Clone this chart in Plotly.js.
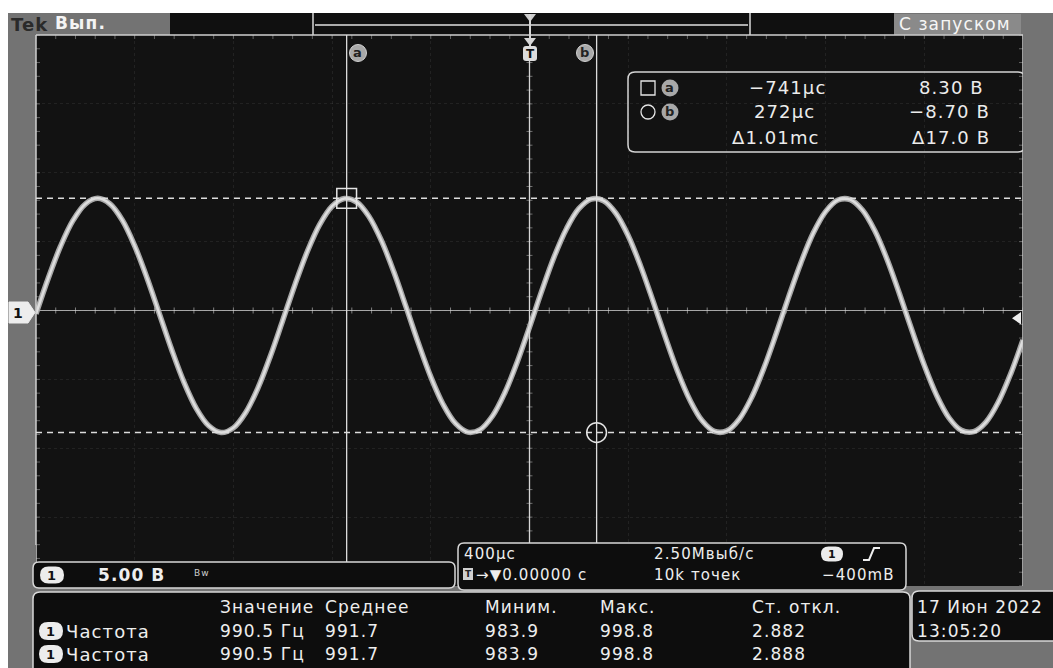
<!DOCTYPE html>
<html><head><meta charset="utf-8">
<script src="https://cdn.plot.ly/plotly-3.0.1.min.js"></script>
<style>html,body{margin:0;padding:0;background:#fff;overflow:hidden}#plot{width:1053px;height:668px}
.annotation-text{letter-spacing:1.1px}</style>
</head><body><div id="plot"></div>
<script>
// ---- data ----
const timeUs = [-2000,-1950,-1900,-1850,-1800,-1750,-1700,-1650,-1600,-1550,-1500,-1450,-1400,-1350,-1300,-1250,-1200,-1150,-1100,-1050,-1000,-950,-900,-850,-800,-750,-700,-650,-600,-550,-500,-450,-400,-350,-300,-250,-200,-150,-100,-50,0,50,100,150,200,250,300,350,400,450,500,550,600,650,700,750,800,850,900,950,1000,1050,1100,1150,1200,1250,1300,1350,1400,1450,1500,1550,1600,1650,1700,1750,1800,1850,1900,1950,2000];
const voltV = [-0.08,2.52,4.85,6.70,7.89,8.30,7.89,6.71,4.85,2.52,-0.08,-2.69,-5.06,-6.96,-8.21,-8.70,-8.36,-7.24,-5.44,-3.14,-0.56,2.06,4.46,6.41,7.73,8.29,8.03,6.97,5.23,2.97,0.40,-2.23,-4.66,-6.66,-8.04,-8.67,-8.48,-7.50,-5.81,-3.59,-1.04,1.60,4.06,6.10,7.55,8.25,8.13,7.22,5.59,3.40,0.87,-1.76,-4.25,-6.34,-7.85,-8.62,-8.58,-7.73,-6.16,-4.02,-1.51,1.13,3.63,5.78,7.34,8.18,8.21,7.44,5.93,3.83,1.34,-1.29,-3.82,-6.00,-7.63,-8.54,-8.64,-7.94,-6.49,-4.44,-1.98];
const cursorT = [-741, 272];          // µs
const cursorV = [8.30, -8.70];        // V
const triggerLevelV = -0.4;
const timePerDivUs = 400;
const voltPerDiv = 5;
const readoutRows = [['−741µс','8.30 В'],['272µс','−8.70 В'],['Δ1.01mс','Δ17.0 В']];
const measHeaders = ['Значение','Среднее','Миним.','Макс.','Ст. откл.'];
const measName = 'Частота';
const measRow1 = ['990.5 Гц','991.7','983.9','998.8','2.882'];
const measRow2 = ['990.5 Гц','991.7','983.9','998.8','2.888'];
const chanScale = '5.00 В';
const tbTexts = ['400µс','2.50Мвыб/с','→▼0.00000 с','10k точек','−400mВ'];
const dateTexts = ['17 Июн 2022','13:05:20'];

// ---- layout helpers (pixel -> paper) ----
const L=36,R=1023,T=35,B=586,W=R-L,H=B-T;
const px=x=>(x-L)/W, py=y=>(B-y)/H;
const FONT='DejaVu Sans';
const shapes=[], ann=[];
function rect(x0,y0,x1,y1,fill,lc,lw){shapes.push({type:'rect',xref:'paper',yref:'paper',x0:px(x0),x1:px(x1),y0:py(y1),y1:py(y0),fillcolor:fill,line:{color:lc||'rgba(0,0,0,0)',width:lw||0},layer:'above'});}
function rrect(x0,y0,x1,y1,r,fill,lc,lw){
  const X=px,Y=py;
  const p=`M${X(x0+r)},${Y(y0)} L${X(x1-r)},${Y(y0)} Q${X(x1)},${Y(y0)} ${X(x1)},${Y(y0+r)} L${X(x1)},${Y(y1-r)} Q${X(x1)},${Y(y1)} ${X(x1-r)},${Y(y1)} L${X(x0+r)},${Y(y1)} Q${X(x0)},${Y(y1)} ${X(x0)},${Y(y1-r)} L${X(x0)},${Y(y0+r)} Q${X(x0)},${Y(y0)} ${X(x0+r)},${Y(y0)} Z`;
  shapes.push({type:'path',xref:'paper',yref:'paper',path:p,fillcolor:fill,line:{color:lc||'rgba(0,0,0,0)',width:lw||0},layer:'above'});
}
function pathP(pts,fill,lc,lw,close){
  let p=pts.map((q,i)=>(i?'L':'M')+px(q[0])+','+py(q[1])).join(' ')+(close?' Z':'');
  shapes.push({type:'path',xref:'paper',yref:'paper',path:p,fillcolor:fill||'rgba(0,0,0,0)',line:{color:lc||'rgba(0,0,0,0)',width:lw||0},layer:'above'});
}
function lineP(x0,y0,x1,y1,c,w,dash){shapes.push({type:'line',xref:'paper',yref:'paper',x0:px(x0),x1:px(x1),y0:py(y0),y1:py(y1),line:{color:c,width:w,dash:dash||'solid'},layer:'above'});}
function circ(cx,cy,r,fill,lc,lw){shapes.push({type:'circle',xref:'paper',yref:'paper',x0:px(cx-r),x1:px(cx+r),y0:py(cy+r),y1:py(cy-r),fillcolor:fill,line:{color:lc||'rgba(0,0,0,0)',width:lw||0},layer:'above'});}
function txt(x,y,t,size,color,xa,bold){ann.push({xref:'paper',yref:'paper',x:px(x),y:py(y),text:bold?'<b>'+t+'</b>':t,showarrow:false,xanchor:xa||'left',yanchor:'middle',font:{family:FONT,size:size,color:color||'#ececec'}});}
function badge(cx,cy,w,h,label,size){rrect(cx-w/2,cy-h/2,cx+w/2,cy+h/2,h/2,'#ececec');txt(cx,cy+0.5,label,size||13,'#111','center',true);}

const BEZEL='#737373';
// outer white page edges
rect(-40,-40,8,700,'#ffffff');
rect(-40,-40,1100,13,'#ffffff');
// top bar
rect(8,13,1053,35,BEZEL);
rect(170,13,894,35,'#101010');
txt(9,24,'Tek',18,'#2a2a2a','left',true);
txt(53,23,'Вып.',17,'#f4f4f4','left',true);
lineP(313,13,313,35,'#d8d8d8',1.5);
lineP(750,13,750,35,'#d8d8d8',1.5);
lineP(315,25,748,25,'#e0e0e0',1.5);
rect(894,14,1021,34,'#8a8a8a');
txt(897,24,'С запуском',17,'#f6f6f6','left');

// ---- graticule decorations (centre cross ticks, borders) ----
const yCenterV = 0.16;
for(let t=-2000;t<=2000;t+=timePerDivUs/5){
  shapes.push({type:'line',xref:'x',yref:'paper',x0:t,x1:t,y0:py(313.5),y1:py(307.5),line:{color:'rgba(220,220,220,0.55)',width:1},layer:'below'});
  shapes.push({type:'line',xref:'x',yref:'paper',x0:t,x1:t,y0:py(35),y1:py(39),line:{color:'rgba(220,220,220,0.4)',width:1},layer:'below'});
}
for(let v=-20;v<=20;v+=voltPerDiv/5){
  shapes.push({type:'line',xref:'paper',yref:'y',x0:px(526.5),x1:px(532.5),y0:v+yCenterV,y1:v+yCenterV,line:{color:'rgba(220,220,220,0.45)',width:1},layer:'below'});
  shapes.push({type:'line',xref:'paper',yref:'y',x0:px(36),x1:px(40),y0:v+yCenterV,y1:v+yCenterV,line:{color:'rgba(220,220,220,0.4)',width:1},layer:'below'});
  shapes.push({type:'line',xref:'paper',yref:'y',x0:px(1019),x1:px(1023),y0:v+yCenterV,y1:v+yCenterV,line:{color:'rgba(220,220,220,0.4)',width:1},layer:'below'});
}
shapes.push({type:'line',xref:'paper',yref:'y',x0:0,x1:1,y0:yCenterV,y1:yCenterV,line:{color:'rgba(215,215,215,0.75)',width:1.2},layer:'below'});
// screen border
lineP(36,35,1023,35,'#cfcfcf',1.5);
lineP(36,35,36,600,'#cfcfcf',1.5);
lineP(1023,35,1023,600,'#cfcfcf',1.5);

// trigger position line (t = 0)
shapes.push({type:'line',xref:'x',yref:'paper',x0:0,x1:0,y0:0,y1:py(60),line:{color:'#d6d6d6',width:1.3},layer:'above'});
// cursors (vertical) and their horizontal dashed levels
cursorT.forEach(t=>shapes.push({type:'line',xref:'x',yref:'paper',x0:t,x1:t,y0:0,y1:1,line:{color:'#dcdcdc',width:1.3},layer:'above'}));
cursorV.forEach(v=>shapes.push({type:'line',xref:'paper',yref:'y',x0:0,x1:1,y0:v,y1:v,line:{color:'#dcdcdc',width:1.5,dash:'6px,5px'},layer:'above'}));
// cursor a: square marker, cursor b: circle marker
shapes.push({type:'rect',xref:'x',yref:'y',x0:cursorT[0]-40,x1:cursorT[0]+40,y0:cursorV[0]-0.72,y1:cursorV[0]+0.72,line:{color:'#e4e4e4',width:1.5},fillcolor:'rgba(0,0,0,0)',layer:'above'});
shapes.push({type:'circle',xref:'x',yref:'y',x0:cursorT[1]-40,x1:cursorT[1]+40,y0:cursorV[1]-0.72,y1:cursorV[1]+0.72,line:{color:'#e4e4e4',width:1.5},fillcolor:'rgba(0,0,0,0)',layer:'above'});

// T marker at top
pathP([[524,14],[536,14],[530,22]],'#cfcfcf');
lineP(530,14,530,46,'#d6d6d6',2);
pathP([[524,38],[536,38],[530,46]],'#d6d6d6');
rrect(523,46,537,61,3,'#dcdcdc');
txt(530,54,'T',12,'#111','center',true);
// cursor labels a, b
circ(358,53,8.5,'#a8a8a8','#d0d0d0',1);txt(358,52.5,'a',13,'#222','center',true);
circ(585,53,8.5,'#a8a8a8','#d0d0d0',1);txt(585,52.5,'b',13,'#222','center',true);

// ground marker "1" (left) and trigger level arrow (right)
pathP([[9,302],[28,302],[35,312.5],[28,323],[9,323]],'#ededed','#ededed',1,true);
txt(18,312.5,'1',14,'#111','center',true);
shapes.push({type:'path',xref:'paper',yref:'y',path:`M${px(1012)},${triggerLevelV} L${px(1021)},${triggerLevelV+0.45} L${px(1021)},${triggerLevelV-0.45} Z`,fillcolor:'#eeeeee',line:{width:0},layer:'above'});

// readout box
rrect(628,72,1025,152,7,'rgba(0,0,0,0)','#d4d4d4',1.5);
rect(641,81,655,95,'rgba(0,0,0,0)','#e6e6e6',1.3);
circ(670,88,8.5,'#a8a8a8');txt(670,87.5,'a',13,'#222','center',true);
circ(648,112,7,'rgba(0,0,0,0)','#e6e6e6',1.3);
circ(670,112,8.5,'#a8a8a8');txt(670,111.5,'b',13,'#222','center',true);
const rY=[88,112,137], rX=[[747,986],[752,992],[730,992]];
readoutRows.forEach((r,i)=>{txt(rX[i][0],rY[i],r[0],18,'#ececec','left');txt(rX[i][1],rY[i],r[1],18,'#ececec','right');});

// ---- bottom panels ----
rect(8,586,1053,700,BEZEL);
rect(8,545,36,600,BEZEL);
rect(1023,35,1053,700,BEZEL);
// channel box
rrect(33,562,455,588,6,'#0d0d0d','#d8d8d8',1.5);
badge(52,575,24,17,'1',13);
txt(96,575,chanScale,17,'#eeeeee','left',true);
txt(192,573,'Bw',9,'#cccccc','left');
// timebase box
rrect(458,543,906,590,6,'#0d0d0d','#d8d8d8',1.5);
txt(462,554,tbTexts[0],15,'#eeeeee','left');
txt(652,554,tbTexts[1],15,'#eeeeee','left');
badge(832,554,22,15,'1',11);
pathP([[863,560],[869,560],[874,548],[880,548]],null,'#eeeeee',2);
rect(463,568,473,580,'#d0d0d0');
txt(468,574,'T',9,'#222','center',true);
txt(474,575,tbTexts[2],15,'#eeeeee','left');
txt(652,575,tbTexts[3],15,'#eeeeee','left');
txt(897,575,tbTexts[4],15,'#eeeeee','right');
// measurement box
rrect(33,592,910,690,7,'#0d0d0d','#d8d8d8',1.5);
const colX=[218,323,483,598,750];
measHeaders.forEach((h,i)=>txt(colX[i],607,h,17,'#eeeeee','left'));
[[631,measRow1],[654,measRow2]].forEach(([y,row])=>{
  badge(51,y,24,18,'1',13);
  txt(64,y,measName,18,'#eeeeee','left');
  row.forEach((v,i)=>txt(colX[i],y,v,17,'#eeeeee','left'));
});
// date box
rrect(912,591,1060,641,7,'#0d0d0d','#d8d8d8',1.5);
txt(915,607,dateTexts[0],17,'#eeeeee','left');
txt(915,631,dateTexts[1],17,'#eeeeee','left');

const traces=[
 {x:timeUs,y:voltV,type:'scatter',mode:'lines',line:{color:'#a8a8a8',width:5.5,shape:'spline',smoothing:1},hoverinfo:'skip'},
 {x:timeUs,y:voltV,type:'scatter',mode:'lines',line:{color:'#dedede',width:2.5,shape:'spline',smoothing:1},hoverinfo:'skip'}
];
const layout={
  width:1053,height:668,margin:{l:L,r:1053-R,t:T,b:668-B,pad:0},
  paper_bgcolor:BEZEL,plot_bgcolor:'#121212',showlegend:false,
  xaxis:{range:[-2000,2000],tick0:0,dtick:timePerDivUs,showticklabels:false,ticks:'',zeroline:false,showline:false,showgrid:true,gridcolor:'rgba(200,200,200,0.09)',griddash:'dot',gridwidth:1,fixedrange:true},
  yaxis:{range:[-19.84,20.16],tick0:yCenterV,dtick:voltPerDiv,showticklabels:false,ticks:'',zeroline:false,showline:false,showgrid:true,gridcolor:'rgba(200,200,200,0.09)',griddash:'dot',gridwidth:1,fixedrange:true},
  shapes:shapes,annotations:ann
};
Plotly.newPlot('plot',traces,layout,{staticPlot:true,displayModeBar:false});
</script></body></html>
